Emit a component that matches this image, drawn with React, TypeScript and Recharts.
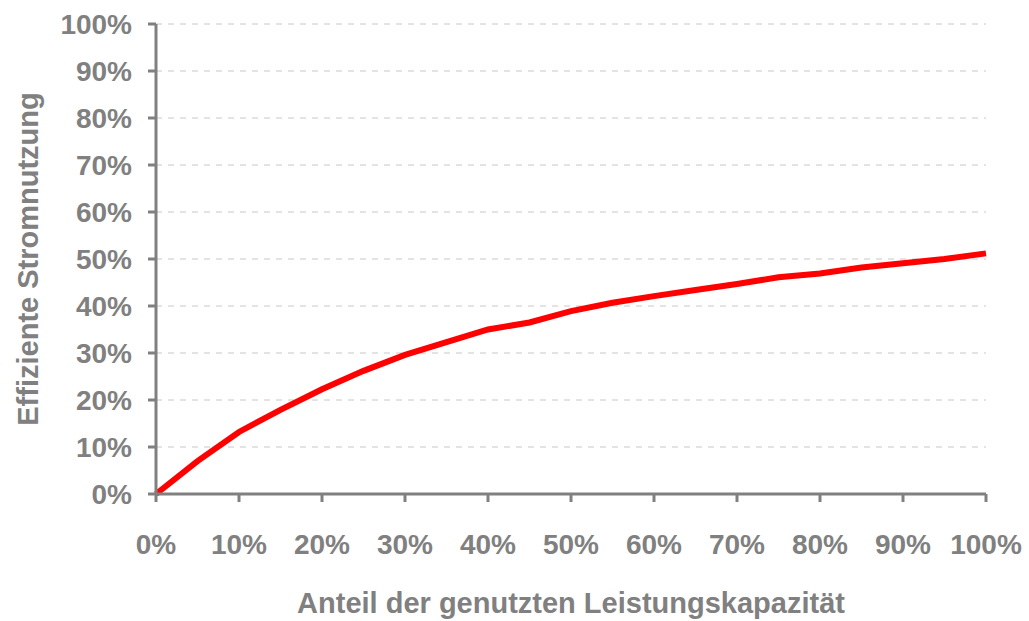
import * as React from "react";
import {
  LineChart,
  Line,
  XAxis,
  YAxis,
  CartesianGrid,
  Label,
} from "recharts";

const capacityShare = [0, 5, 10, 15, 20, 25, 30, 35, 40, 45, 50, 55, 60, 65, 70, 75, 80, 85, 90, 95, 100];
const efficientUse = [0, 7.0, 13.2, 17.9, 22.3, 26.2, 29.6, 32.3, 35.0, 36.5, 38.9, 40.7, 42.1, 43.4, 44.7, 46.1, 46.9, 48.2, 49.1, 50.0, 51.2];
const percentTicks = [0, 10, 20, 30, 40, 50, 60, 70, 80, 90, 100];

const chartData = capacityShare.map((x, i) => ({ x, y: efficientUse[i] }));

const gray = "#808080";
const font = "'Liberation Sans', Arial, sans-serif";

export default function App() {
  const tickStyle = { fill: gray, fontSize: 28, fontWeight: 700, fontFamily: font };
  const labelStyle = { fill: gray, fontSize: 29, fontWeight: 700, fontFamily: font };

  return (
    <div style={{ position: "absolute", left: 0, top: 0, width: 1029, height: 621, background: "#fff" }}>
      <LineChart
        width={1029}
        height={621}
        data={chartData}
        margin={{ top: 24, right: 43, bottom: 0, left: 0 }}
      >
        <CartesianGrid
          vertical={false}
          stroke="#c8c8c8"
          strokeDasharray="6 6"
          horizontalValues={percentTicks.filter((t) => t > 0)}
        />
        <XAxis
          dataKey="x"
          type="number"
          domain={[0, 100]}
          ticks={percentTicks}
          tickFormatter={(v: number) => `${v}%`}
          height={127}
          stroke={gray}
          strokeWidth={3}
          tickSize={8}
          tickMargin={32}
          tick={tickStyle}
          interval={0}
        >
          <Label
            value="Anteil der genutzten Leistungskapazität"
            position="insideBottom"
            offset={8}
            style={labelStyle}
          />
        </XAxis>
        <YAxis
          type="number"
          domain={[0, 100]}
          ticks={percentTicks}
          tickFormatter={(v: number) => `${v}%`}
          width={156}
          stroke={gray}
          strokeWidth={3}
          tickSize={8}
          tickMargin={16}
          tick={tickStyle}
          interval={0}
        >
          <Label
            value="Effiziente Stromnutzung"
            angle={-90}
            position="insideLeft"
            offset={28}
            style={{ ...labelStyle, textAnchor: "middle" }}
          />
        </YAxis>
        <Line
          type="linear"
          dataKey="y"
          stroke="#ff0000"
          strokeWidth={6}
          dot={false}
          isAnimationActive={false}
        />
      </LineChart>
    </div>
  );
}
